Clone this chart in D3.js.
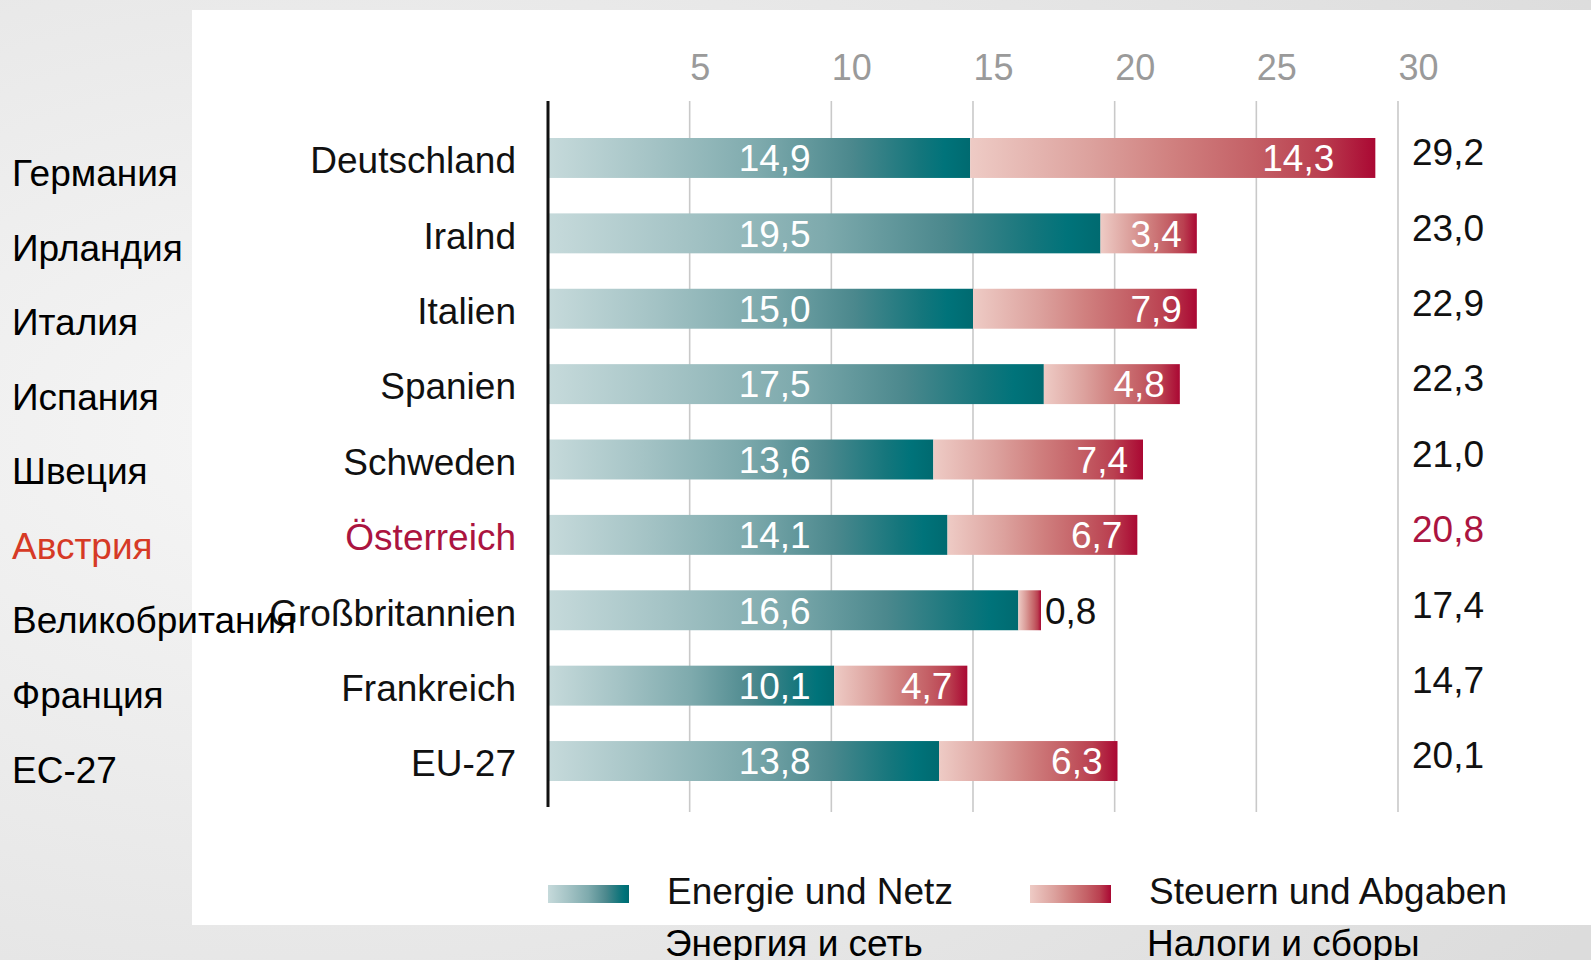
<!DOCTYPE html>
<html><head><meta charset="utf-8">
<script src="https://cdn.jsdelivr.net/npm/d3@7"></script>
<style>
html,body{margin:0;padding:0;width:1591px;height:960px;overflow:hidden;}
svg{display:block;font-family:"Liberation Sans",Arial,sans-serif;}
</style></head>
<body>
<svg id="chart" width="1591" height="960"></svg>
<script>
// ---- data ----
const countries = ["Deutschland","Iralnd","Italien","Spanien","Schweden","Österreich","Großbritannien","Frankreich","EU-27"];
const countriesRu = ["Германия","Ирландия","Италия","Испания","Швеция","Австрия","Великобритания","Франция","ЕС-27"];
const energy = [14.9,19.5,15.0,17.5,13.6,14.1,16.6,10.1,13.8];
const taxes  = [14.3,3.4,7.9,4.8,7.4,6.7,0.8,4.7,6.3];
const totals = [29.2,23.0,22.9,22.3,21.0,20.8,17.4,14.7,20.1];
const tickValues = [5,10,15,20,25,30];
const legendLabels = ["Energie und Netz","Steuern und Abgaben"];
const legendLabelsRu = ["Энергия и сеть","Налоги и сборы"];
const highlight = "Österreich";

const fmt = v => v.toFixed(1).replace(".", ",");
const svg = d3.select("#chart");
const W = 1591, H = 960;
const font = '"Liberation Sans",Arial,sans-serif';

// ---- defs ----
const defs = svg.append("defs");
const bg = defs.append("radialGradient").attr("id","bg").attr("cx","0.2").attr("cy","0.45").attr("r","0.95");
bg.append("stop").attr("offset","0").attr("stop-color","#f6f6f6");
bg.append("stop").attr("offset","1").attr("stop-color","#dcdcdc");
const teal = defs.append("linearGradient").attr("id","teal");
[[0,"#c6dadb"],[0.25,"#a4c3c5"],[0.5,"#7eaaad"],[0.72,"#4b888d"],[0.88,"#14767c"],[0.94,"#00737a"],[1,"#006a70"]]
  .forEach(([o,c]) => teal.append("stop").attr("offset",o).attr("stop-color",c));
const red = defs.append("linearGradient").attr("id","red");
[[0,"#eecbc5"],[0.3,"#dca19d"],[0.5,"#d0807f"],[0.7,"#c46066"],[0.86,"#ba4050"],[1,"#aa0833"]]
  .forEach(([o,c]) => red.append("stop").attr("offset",o).attr("stop-color",c));

// ---- background ----
svg.append("rect").attr("width",W).attr("height",H).attr("fill","url(#bg)");
svg.append("rect").attr("x",192).attr("y",10).attr("width",W-192).attr("height",915).attr("fill","#ffffff");

// ---- scales ----
const x = d3.scaleLinear().domain([0,30]).range([548,1398]);
const y = d3.scaleBand().domain(countries).range([138,781]).paddingInner(0.47).paddingOuter(0);
const yRu = d3.scaleBand().domain(countriesRu).range([154,788]).paddingInner(0.5).paddingOuter(0);

// ---- gridlines ----
svg.append("g").selectAll("line").data(tickValues).join("line")
  .attr("x1", d => x(d)).attr("x2", d => x(d))
  .attr("y1", 101).attr("y2", 812)
  .attr("stroke","#c9c9c9").attr("stroke-width",1.6);

// ---- top axis ----
const axis = svg.append("g").attr("transform","translate(0,101)")
  .call(d3.axisTop(x).tickValues(tickValues).tickSize(0).tickPadding(21).tickFormat(d3.format("d")));
axis.select(".domain").remove();
axis.selectAll("text").attr("font-family",font).attr("font-size",36).attr("fill","#9a9a9a")
  .attr("text-anchor","start");

// ---- rows ----
const rows = countries.map((c,i) => ({c, ru: countriesRu[i], e: energy[i], t: taxes[i], tot: totals[i]}));

svg.append("g").selectAll("rect").data(rows).join("rect")
  .attr("x", x(0)).attr("y", d => y(d.c))
  .attr("width", d => x(d.e) - x(0)).attr("height", y.bandwidth())
  .attr("fill","url(#teal)");
svg.append("g").selectAll("rect").data(rows).join("rect")
  .attr("x", d => x(d.e)).attr("y", d => y(d.c))
  .attr("width", d => x(d.e + d.t) - x(d.e)).attr("height", y.bandwidth())
  .attr("fill","url(#red)");

// energy labels
svg.append("g").selectAll("text").data(rows).join("text")
  .attr("x", x(8)).attr("y", d => y(d.c) + y.bandwidth()/2)
  .attr("dy","0.36em").attr("text-anchor","middle")
  .attr("font-family",font).attr("font-size",37).attr("fill","#ffffff")
  .text(d => fmt(d.e));

// tax labels
svg.append("g").selectAll("text").data(rows).join("text")
  .attr("x", d => d.t < 2 ? x(d.e + d.t) + 4 : Math.min(x(d.e + d.t) - 15, x(27.75)))
  .attr("y", d => y(d.c) + y.bandwidth()/2)
  .attr("dy","0.36em").attr("text-anchor", d => d.t < 2 ? "start" : "end")
  .attr("font-family",font).attr("font-size",37)
  .attr("fill", d => d.t < 2 ? "#111111" : "#ffffff")
  .text(d => fmt(d.t));

// totals
svg.append("g").selectAll("text").data(rows).join("text")
  .attr("x", 1412).attr("y", d => y(d.c) + y.bandwidth()/2 - 6)
  .attr("dy","0.36em")
  .attr("font-family",font).attr("font-size",37)
  .attr("fill", d => d.c === highlight ? "#ab1440" : "#111111")
  .text(d => fmt(d.tot));

// country labels (German)
svg.append("g").selectAll("text").data(rows).join("text")
  .attr("x", 516).attr("y", d => y(d.c) + y.bandwidth()/2 + 2)
  .attr("dy","0.36em").attr("text-anchor","end")
  .attr("font-family",font).attr("font-size",37)
  .attr("fill", d => d.c === highlight ? "#ab1440" : "#111111")
  .text(d => d.c);

// y axis line
svg.append("line").attr("x1",x(0)).attr("x2",x(0)).attr("y1",101).attr("y2",807)
  .attr("stroke","#111111").attr("stroke-width",3);

// Russian labels
svg.append("g").selectAll("text").data(rows).join("text")
  .attr("x", 12).attr("y", d => yRu(d.ru) + yRu.bandwidth()/2)
  .attr("dy","0.36em")
  .attr("font-family",font).attr("font-size",37)
  .attr("fill", d => d.c === highlight ? "#d63a26" : "#000000")
  .text(d => d.ru);

// ---- legend ----
const legX = [548, 1030];
const legFill = ["url(#teal)","url(#red)"];
const leg = svg.append("g").selectAll("g").data(legendLabels).join("g")
  .attr("transform", (d,i) => `translate(${legX[i]},0)`);
leg.append("rect").attr("x",0).attr("y",885).attr("width",81).attr("height",18)
  .attr("fill", (d,i) => legFill[i]);
leg.append("text").attr("x",119).attr("y",891).attr("dy","0.36em")
  .attr("font-family",font).attr("font-size",37).attr("fill","#111111")
  .text(d => d);
leg.append("text").attr("x",117).attr("y",956)
  .attr("font-family",font).attr("font-size",37).attr("fill","#000000")
  .text((d,i) => legendLabelsRu[i]);
</script>
</body></html>
